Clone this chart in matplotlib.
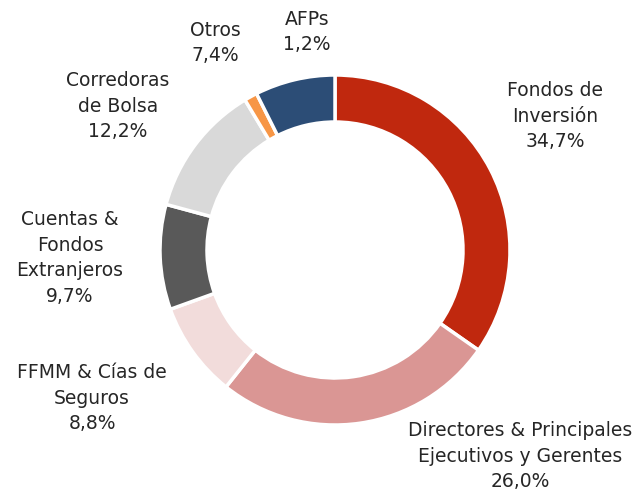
import matplotlib
matplotlib.use("Agg")
import matplotlib.pyplot as plt

labels = ["Fondos de\nInversión", "Directores & Principales\nEjecutivos y Gerentes",
          "FFMM & Cías de\nSeguros", "Cuentas &\nFondos\nExtranjeros",
          "Corredoras\nde Bolsa", "Otros", "AFPs"]
values = [34.7, 26.0, 8.8, 9.7, 12.2, 1.2, 7.4]
label_values = ["34,7%", "26,0%", "8,8%", "9,7%", "12,2%", "7,4%", "1,2%"]
colors = ["#C0280E", "#DA9694", "#F2DCDB", "#595959", "#D9D9D9", "#F79646", "#2C4D76"]
# label centres in pixel coordinates measured from the top-left corner
label_pos = [(555, 116), (520, 456), (92, 398), (70, 258), (118, 106), (215, 43), (307, 32)]

W, H = 642, 495
fig = plt.figure(figsize=(W / 100, H / 100), dpi=100)
ax = fig.add_axes([0, 0, 1, 1])
ax.pie(values, colors=colors, startangle=90, counterclock=False,
       center=(335, H - 250), radius=175,
       wedgeprops=dict(width=47, edgecolor="white", linewidth=2.5))
ax.set_xlim(0, W)
ax.set_ylim(0, H)
ax.set_aspect("equal")
ax.axis("off")

for lab, val, (x, y) in zip(labels, label_values, label_pos):
    ax.text(x, H - y, lab + "\n" + val, ha="center", va="center", fontsize=13.5,
            color="#262626", linespacing=1.45, family="DejaVu Sans")

fig.savefig("out.png", dpi=100)
